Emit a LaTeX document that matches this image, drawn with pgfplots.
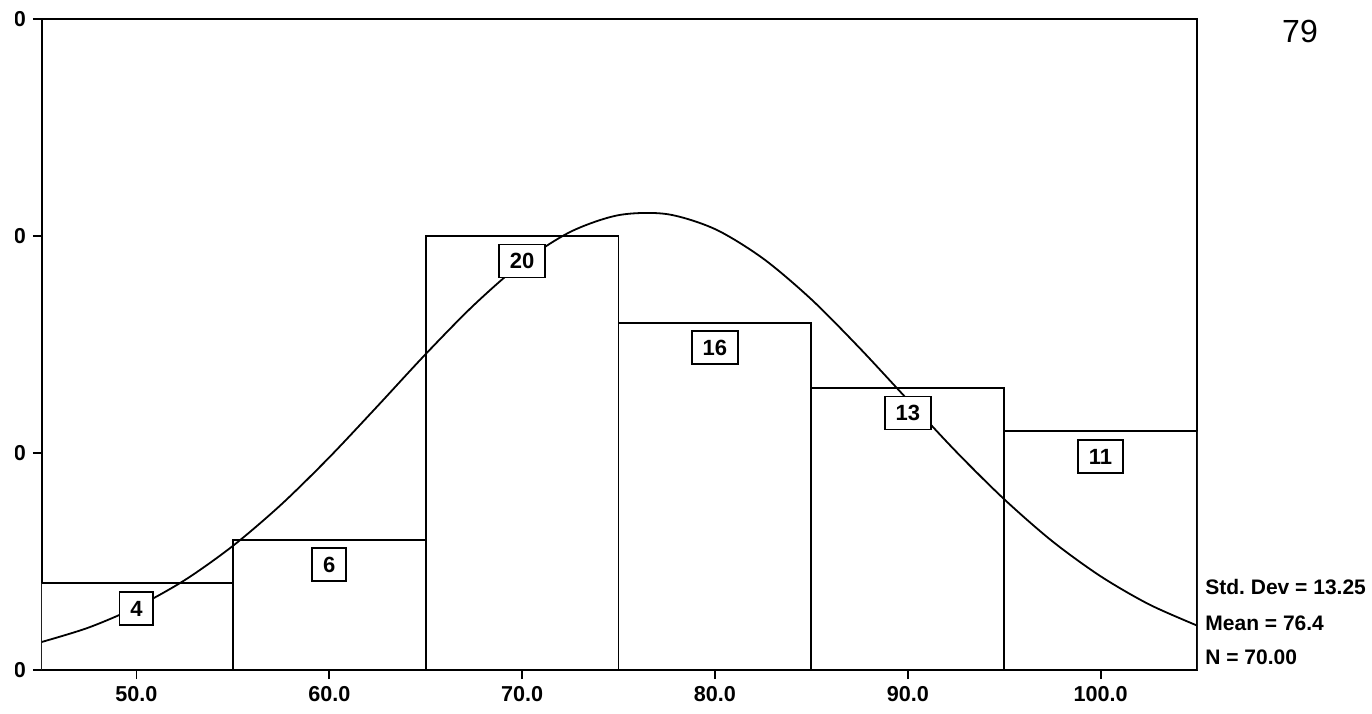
\documentclass[border=0pt]{standalone}
\usepackage{fontspec}
\setmainfont{Liberation Sans}
\usepackage{pgfplots}
\pgfplotsset{compat=1.18}

\begin{document}
\begin{tikzpicture}
\useasboundingbox (-21pt,-21.5pt) rectangle (665pt,335pt);
% the scan cuts off the left part of the y tick labels
\clip (-13.3pt,-21.5pt) rectangle (665pt,335pt);
\begin{axis}[
  at={(0,0)}, anchor=south west,
  scale only axis,
  width=577.5pt, height=325.5pt,
  xmin=45.1, xmax=105,
  ymin=0, ymax=30,
  xtick={50,60,70,80,90,100},
  ytick={0,10,20,30},
  xticklabel={\pgfmathprintnumber[fixed,fixed zerofill,precision=1]{\tick}},
  tick pos=left,
  tick align=outside,
  major tick length=4.5pt,
  ticklabel style={font=\fontsize{10.8}{12}\selectfont\bfseries},
  /pgf/number format/assume math mode=true,
  axis line style={line width=0.9pt},
  every tick/.style={line width=0.9pt, black},
]
% histogram
\addplot[ybar interval, fill=white, draw=black, line width=0.9pt]
  coordinates {(45,4)(55,6)(65,20)(75,16)(85,13)(95,11)(105,11)};
% normal curve
\addplot[smooth, line width=0.9pt, black] coordinates {
  (45,1.27)(47.5,1.95)(50,2.90)(52.5,4.14)(55,5.72)(57.5,7.62)(60,9.80)
  (62.5,12.16)(65,14.56)(67.5,16.82)(70,18.76)(72.5,20.19)(75,20.96)
  (77.5,21.01)(80,20.32)(82.5,18.96)(85,17.08)(87.5,14.84)
  (90,12.45)(92.5,10.07)(95,7.87)(97.5,5.93)(100,4.32)(102.5,3.03)(105,2.05)};
% count labels
\addplot[draw=none, mark=none, point meta=y, nodes near coords,
  nodes near coords style={draw, fill=white, line width=0.9pt, anchor=center,
    yshift=-12.5pt, font=\fontsize{11}{12}\selectfont\bfseries,
    inner xsep=5.4pt, inner ysep=0pt, minimum height=16.5pt,
    text height=8pt, text depth=0pt}]
  coordinates {(50,4)(60,6)(70,20)(80,16)(90,13)(100,11)};
\end{axis}
\begin{scope}[font=\fontsize{10.5}{12}\selectfont\bfseries]
\node[anchor=west, inner sep=0pt] at (581.5pt,41.5pt) {Std.\ Dev = 13.25};
\node[anchor=west, inner sep=0pt] at (581.5pt,23.5pt) {Mean = 76.4};
\node[anchor=west, inner sep=0pt] at (581.5pt,6.5pt) {N = 70.00};
\end{scope}
\node[font=\fontsize{16}{18}\selectfont] at (629pt,319.5pt) {79};
\end{tikzpicture}
\end{document}
